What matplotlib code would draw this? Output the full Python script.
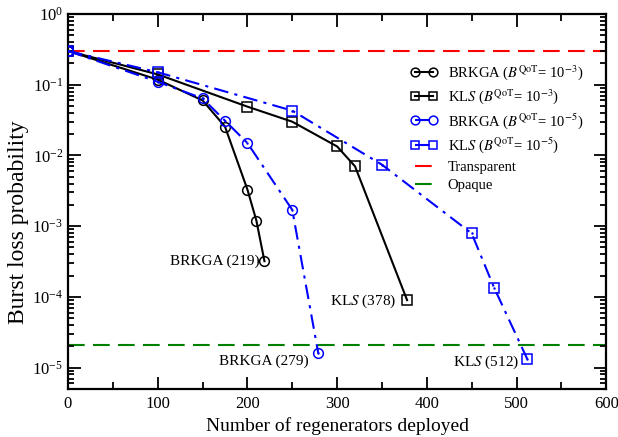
import matplotlib
matplotlib.use('Agg')
import matplotlib.pyplot as plt
from matplotlib.ticker import LogLocator, MultipleLocator, NullFormatter

plt.rcParams['font.family'] = ['Liberation Serif', 'DejaVu Serif']
plt.rcParams['mathtext.fontset'] = 'stix'

# data
brkga3_x = [0, 100, 150, 175, 200, 210, 219]
brkga3_y = [0.30, 0.118, 0.060, 0.0256, 0.0033, 0.0012, 3.2e-4]

kls3_x = [0, 100, 200, 250, 300, 320, 378]
kls3_y = [0.30, 0.14, 0.049, 0.030, 0.0134, 0.0070, 9.0e-5]

brkga5_x = [0, 100, 150, 175, 200, 250, 279]
brkga5_y = [0.30, 0.110, 0.064, 0.031, 0.015, 0.0017, 1.6e-5]

kls5_x = [0, 100, 250, 350, 450, 475, 512]
kls5_y = [0.30, 0.150, 0.043, 0.0074, 7.9e-4, 1.35e-4, 1.32e-5]

transparent = 0.30
opaque = 2.1e-5

fig = plt.figure(figsize=(6.18, 4.37), dpi=100)
ax = fig.add_axes([0.110, 0.110, 0.871, 0.858])

ax.axhline(transparent, color='red', linestyle=(0, (8, 4)), linewidth=1.5, label='Transparent', zorder=1)
ax.axhline(opaque, color='green', linestyle=(0, (8, 4)), linewidth=1.5, label='Opaque', zorder=1)

ax.plot(brkga3_x, brkga3_y, color='black', linewidth=1.5, marker='o', markersize=7,
        markerfacecolor='none', markeredgewidth=1.1,
        label='BRKGA ($B^{\\rm QoT}$= 10$^{-3}$)', zorder=3)
ax.plot(kls3_x, kls3_y, color='black', linewidth=1.5, marker='s', markersize=7,
        markerfacecolor='none', markeredgewidth=1.1,
        label='KL$S$ ($B^{\\rm QoT}$= 10$^{-3}$)', zorder=3)
ax.plot(brkga5_x, brkga5_y, color='blue', linewidth=1.5, linestyle=(0, (7, 3, 1.5, 3)),
        marker='o', markersize=7, markerfacecolor='none', markeredgewidth=1.1,
        label='BRKGA ($B^{\\rm QoT}$= 10$^{-5}$)', zorder=3)
ax.plot(brkga5_x, brkga5_y, linestyle='none', marker='.', markersize=1.5, color='blue', zorder=4)
ax.plot(kls5_x, kls5_y, color='blue', linewidth=1.5, linestyle=(0, (7, 3, 1.5, 3)),
        marker='s', markersize=7, markerfacecolor='none', markeredgewidth=1.1,
        label='KL$S$ ($B^{\\rm QoT}$= 10$^{-5}$)', zorder=3)
ax.plot(kls5_x, kls5_y, linestyle='none', marker='.', markersize=1.5, color='blue', zorder=4)

ax.set_yscale('log')
ax.set_xlim(0, 600)
ax.set_ylim(5e-6, 1)
ax.xaxis.set_major_locator(MultipleLocator(100))
ax.xaxis.set_minor_locator(MultipleLocator(50))
ax.yaxis.set_major_locator(LogLocator(base=10, numticks=10))
ax.yaxis.set_minor_locator(LogLocator(base=10, subs=range(2, 10), numticks=20))
ax.yaxis.set_minor_formatter(NullFormatter())
ax.tick_params(which='both', direction='in', top=True, right=True, labelsize=12, width=1.3)
ax.tick_params(which='major', length=9)
ax.tick_params(which='minor', length=5)
ax.tick_params(axis='y', which='minor', length=4.5)
ax.tick_params(axis='x', pad=5)
for s in ax.spines.values():
    s.set_linewidth(1.6)

ax.set_xlabel('Number of regenerators deployed', fontsize=14)
ax.set_ylabel('Burst loss probability', fontsize=17)
ax.yaxis.set_label_coords(-0.072, 0.445)

ax.text(214, 3.2e-4, 'BRKGA (219)', ha='right', va='center', fontsize=11)
ax.text(268, 1.25e-5, 'BRKGA (279)', ha='right', va='center', fontsize=11)
ax.text(366, 8.7e-5, 'KL$S$ (378)', ha='right', va='center', fontsize=11)
ax.text(503, 1.2e-5, 'KL$S$ (512)', ha='right', va='center', fontsize=11)

handles, labels = ax.get_legend_handles_labels()
order = [2, 3, 4, 5, 0, 1]
leg = ax.legend([handles[i] for i in order], [labels[i] for i in order], loc='upper right',
                bbox_to_anchor=(0.968, 0.885), frameon=False, fontsize=10.5, handlelength=1.85,
                numpoints=2, markerscale=0.9, labelspacing=0.35, handletextpad=0.7,
                borderaxespad=0)

fig.savefig('out.png', dpi=100)
